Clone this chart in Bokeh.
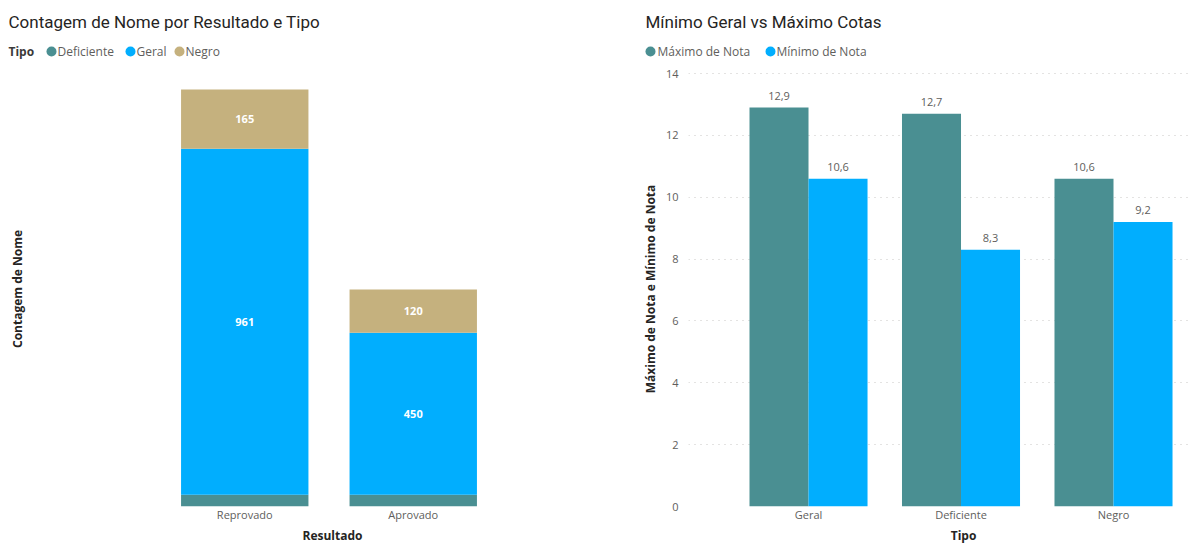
from bokeh.plotting import figure
from bokeh.layouts import row, column
from bokeh.models import (ColumnDataSource, Range1d, FactorRange, LabelSet, FixedTicker)
from bokeh.transform import dodge
from bokeh.embed import file_html
from bokeh.resources import INLINE
from bokeh.core.properties import value

# ---------------- data ----------------
resultados = ["Reprovado", "Aprovado"]
tipos_stack = ["Deficiente", "Geral", "Negro"]
deficiente = [33, 33]
geral = [961, 450]
negro = [165, 120]

tipos = ["Geral", "Deficiente", "Negro"]
maximo_nota = [12.9, 12.7, 10.6]
minimo_nota = [10.6, 8.3, 9.2]
series2 = ["Máximo de Nota", "Mínimo de Nota"]
y_ticks = [0, 2, 4, 6, 8, 10, 12, 14]

title1 = "Contagem de Nome por Resultado e Tipo"
title2 = "Mínimo Geral vs Máximo Cotas"
xlabel1 = "Resultado"
xlabel2 = "Tipo"

TEAL = "#4A8F92"
BLUE = "#01AEFE"
TAN = "#C5B17E"
DARK = "#252423"
GRAY = "#605E5C"
FONT = "Open Sans"
TFONT = "Roboto"
HEAD_H = 62
FOOT_H = 17
MAIN_H = 543 - HEAD_H - FOOT_H


def blank(width, height):
    f = figure(width=width, height=height, x_range=Range1d(0, width),
               y_range=Range1d(height, 0), output_backend="svg", toolbar_location=None,
               min_border=0, x_axis_location=None, y_axis_location=None)
    f.outline_line_color = None
    f.grid.visible = False
    return f


def header(width, title, title_x, legend_title, names, colors, dot_x, label_x):
    h = blank(width, HEAD_H)
    h.text(x=[title_x], y=[21], text=[title], text_font=value(TFONT),
           text_font_size="17px", text_color=DARK, text_baseline="middle")
    if legend_title:
        h.text(x=[8], y=[51], text=[legend_title], text_font=value(FONT),
               text_font_size="12px", text_font_style="bold", text_color="#3B3A39",
               text_baseline="middle")
    h.scatter(x=dot_x, y=[51] * len(names), marker="circle", size=10,
              color=colors, line_color=None)
    h.text(x=label_x, y=[51] * len(names), text=names, text_font=value(FONT),
           text_font_size="12px", text_color=GRAY, text_baseline="middle")
    return h


def footer(width, label, cx):
    f = blank(width, FOOT_H)
    f.text(x=[cx], y=[FOOT_H / 2], text=[label], text_font=value(FONT),
           text_font_size="12px", text_font_style="bold", text_color=DARK,
           text_align="center", text_baseline="middle")
    return f


h1 = header(600, title1, 8, "Tipo", tipos_stack, [TEAL, BLUE, TAN],
            [51, 130, 179], [57, 136, 185])
h2 = header(592, title2, 45, None, series2, [TEAL, BLUE], [50, 170], [57, 176])
f1 = footer(600, xlabel1, 332)
f2 = footer(592, xlabel2, 363)


def style_xaxis(ax, standoff):
    ax.major_label_text_font = FONT
    ax.major_label_text_font_size = "11px"
    ax.major_label_text_color = GRAY
    ax.major_label_text_line_height = 1.0
    ax.major_label_standoff = standoff
    ax.axis_line_color = None
    ax.major_tick_line_color = None
    ax.minor_tick_line_color = None
    ax.major_tick_out = 0
    ax.minor_tick_out = 0


# ---------------- left chart ----------------
src1 = ColumnDataSource(dict(
    Resultado=resultados, Deficiente=deficiente, Geral=geral, Negro=negro,
    geral_mid=[d + g / 2 for d, g in zip(deficiente, geral)],
    negro_mid=[d + g + n / 2 for d, g, n in zip(deficiente, geral, negro)],
    geral_txt=[str(v) for v in geral],
    negro_txt=[str(v) for v in negro],
))

p1 = figure(width=600, height=MAIN_H, x_range=FactorRange(*resultados),
            y_range=Range1d(0, 1209), output_backend="svg", toolbar_location=None,
            min_border_left=160, min_border_right=103, min_border_top=8,
            min_border_bottom=20)
p1.x_range.range_padding = 0
p1.outline_line_color = None
p1.grid.visible = False

p1.vbar_stack(tipos_stack, x="Resultado", width=0.756, color=[TEAL, BLUE, TAN],
              line_color=None, source=src1)

for col, txt in (("geral_mid", "geral_txt"), ("negro_mid", "negro_txt")):
    p1.add_layout(LabelSet(x="Resultado", y=col, text=txt, source=src1,
                           text_align="center", text_baseline="middle",
                           text_color="white", text_font=value(FONT),
                           text_font_size="11px", text_font_style="bold"))

p1.yaxis.ticker = FixedTicker(ticks=[])
p1.yaxis.axis_label = "Contagem de Nome"
p1.yaxis.axis_label_text_font = FONT
p1.yaxis.axis_label_text_font_style = "bold"
p1.yaxis.axis_label_text_font_size = "12px"
p1.yaxis.axis_label_text_color = DARK
p1.yaxis.axis_label_standoff = 135
p1.yaxis.axis_line_color = None
p1.yaxis.major_tick_line_color = None
p1.yaxis.minor_tick_line_color = None
p1.yaxis.major_tick_out = 0
p1.yaxis.minor_tick_out = 0

style_xaxis(p1.xaxis[0], 0)

# ---------------- right chart ----------------
src2 = ColumnDataSource(dict(
    idx=list(range(len(tipos))), Tipo=tipos, maximo=maximo_nota, minimo=minimo_nota,
    max_txt=[f"{v:.1f}".replace(".", ",") for v in maximo_nota],
    min_txt=[f"{v:.1f}".replace(".", ",") for v in minimo_nota],
))

p2 = figure(width=592, height=MAIN_H, x_range=Range1d(-0.787, 2.518),
            y_range=Range1d(0, 14.065), output_backend="svg", toolbar_location=None,
            min_border_left=88, min_border_right=0, min_border_top=9,
            min_border_bottom=20)
p2.outline_line_color = None
p2.xgrid.visible = False
p2.ygrid.ticker = FixedTicker(ticks=y_ticks)
p2.ygrid.grid_line_color = "#C8C6C4"
p2.ygrid.grid_line_dash = "1 5"
p2.ygrid.grid_line_width = 1

bw = 0.387
p2.vbar(x=dodge("idx", -bw / 2, range=p2.x_range), top="maximo", width=bw,
        color=TEAL, line_color=None, source=src2)
p2.vbar(x=dodge("idx", bw / 2, range=p2.x_range), top="minimo", width=bw,
        color=BLUE, line_color=None, source=src2)

for off, col, txt in ((-bw / 2, "maximo", "max_txt"), (bw / 2, "minimo", "min_txt")):
    p2.add_layout(LabelSet(x=dodge("idx", off, range=p2.x_range), y=col,
                           text=txt, source=src2, y_offset=8, text_align="center",
                           text_baseline="bottom", text_color=GRAY,
                           text_font=value(FONT), text_font_size="11px"))

p2.xaxis.ticker = FixedTicker(ticks=list(range(len(tipos))))
p2.xaxis.major_label_overrides = {i: t for i, t in enumerate(tipos)}
style_xaxis(p2.xaxis[0], 0)

p2.yaxis.ticker = FixedTicker(ticks=y_ticks)
p2.yaxis.axis_label = "Máximo de Nota e Mínimo de Nota"
p2.yaxis.axis_label_text_font = FONT
p2.yaxis.axis_label_text_font_style = "bold"
p2.yaxis.axis_label_text_font_size = "12px"
p2.yaxis.axis_label_text_color = DARK
p2.yaxis.axis_label_standoff = 4
p2.yaxis.major_label_text_font = FONT
p2.yaxis.major_label_text_font_size = "11px"
p2.yaxis.major_label_text_color = GRAY
p2.yaxis.major_label_standoff = 10
p2.yaxis.axis_line_color = None
p2.yaxis.major_tick_line_color = None
p2.yaxis.minor_tick_line_color = None
p2.yaxis.major_tick_out = 0
p2.yaxis.minor_tick_out = 0

layout = column(row(h1, h2), row(p1, p2), row(f1, f2))
open("out.html", "w").write(file_html(layout, INLINE))
